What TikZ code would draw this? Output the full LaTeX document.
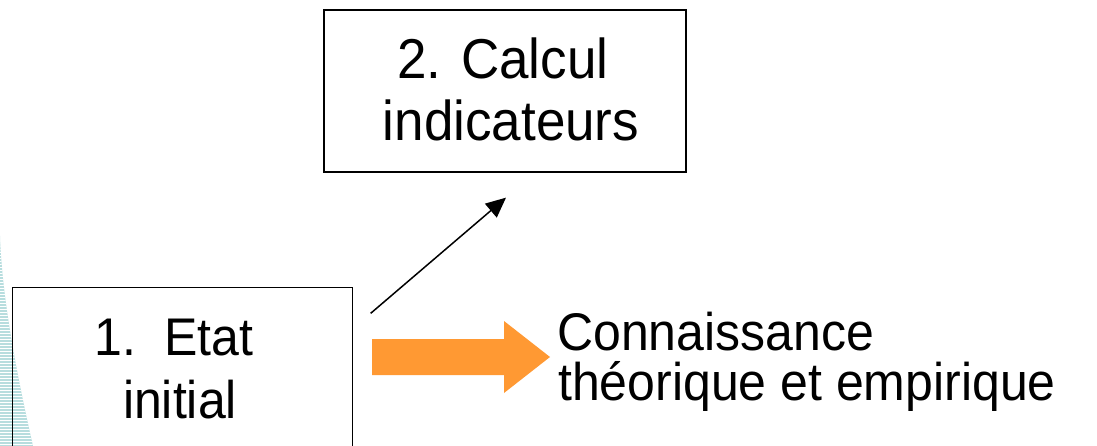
\documentclass[tikz,border=0pt]{standalone}
\usepackage{fontspec}
\usepackage{graphicx}
\setmainfont{Liberation Sans}
\usetikzlibrary{calc,arrows.meta}
\definecolor{arroworange}{HTML}{FF9933}
\definecolor{stripeteal}{HTML}{B7DDDE}
% slightly taller lettering
\newcommand\tallertext[1]{\scalebox{1}[1.06]{#1}}
\begin{document}
\begin{tikzpicture}[x=1pt,y=-1pt,
  stepbox/.style={draw=black, line width=1.3pt, inner sep=0pt},
  boxtext/.style={font=\fontsize{53}{60}\selectfont, inner sep=0pt, anchor=base},
  plaintext/.style={font=\fontsize{50}{58}\selectfont, inner sep=0pt, anchor=base},
  sidetext/.style={plaintext, anchor=base west},
  flow/.style={line width=1.5pt, -{Triangle[length=20pt,width=18pt]}}]
\useasboundingbox (0,0) rectangle (1097,446);
\clip (0,0) rectangle (1097,446);

% striped decoration on the left edge
\begin{scope}
  \path[fill=stripeteal] (0,236) .. controls (2,300) and (18,380) .. (33,446) -- (0,446) -- cycle;
  \clip (0,236) .. controls (2,300) and (18,380) .. (33,446) -- (0,446) -- cycle;
  \foreach \yy in {237,240,...,446}
    \draw[white, line width=0.9pt] (0,\yy) -- (40,\yy);
\end{scope}

% boxes
\node[stepbox, minimum width=362pt, minimum height=162pt] (calcbox) at (505,91) {};
\node[stepbox, minimum width=340pt, minimum height=193pt] (initbox) at (182.5,384) {};

% box texts
\node[boxtext] (calcA) at (503,79) {\tallertext{2. Calcul}};
\node[boxtext] (calcB) at (511,141) {\tallertext{indicateurs}};
\node[plaintext] (initA) at (174,355) {\tallertext{1.\ \ Etat}};
\node[plaintext] (initB) at (180,418) {\tallertext{initial}};

% knowledge text
\node[sidetext] (knowA) at (557,350) {\tallertext{Connaissance}};
\node[sidetext] (knowB) at (558,400) {\tallertext{théorique et empirique}};

% thin arrow towards the computation box
\coordinate (flowStart) at ($(initbox.north east)+(17.5,26.5)$);
\coordinate (flowEnd) at ($(calcbox.south)+(1,25)$);
\draw[flow] (flowStart) -- (flowEnd);

% broad orange arrow
\fill[arroworange] (372,339) -- (504,339) -- (504,321) -- (550,357)
  -- (504,393) -- (504,375) -- (372,375) -- cycle;
\end{tikzpicture}
\end{document}
